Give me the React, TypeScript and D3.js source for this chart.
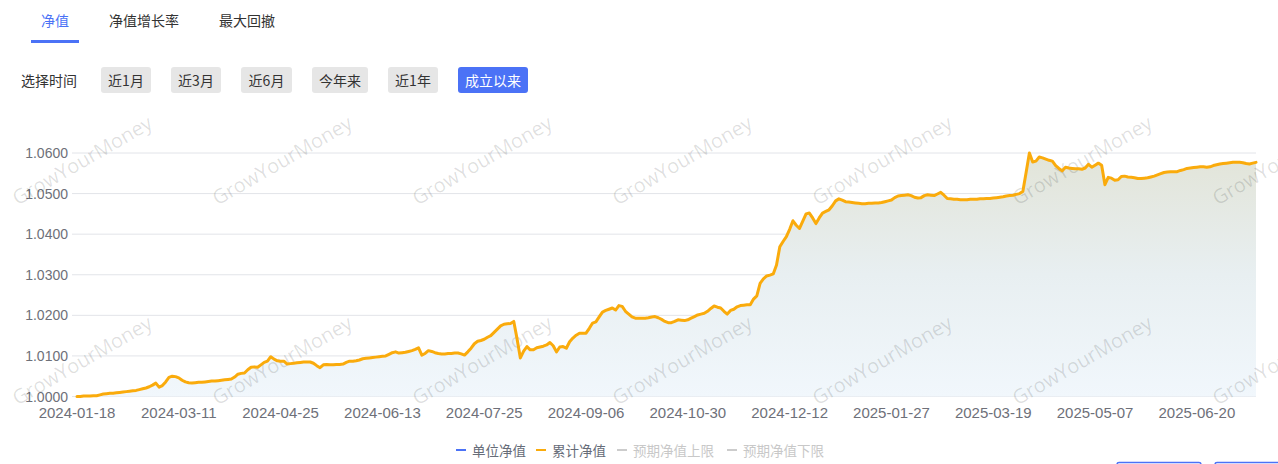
import React from 'react';
import * as d3 from 'd3';

const W = 1278;
const H = 464;

const tabs = ['净值', '净值增长率', '最大回撤'];
const periodButtons = ['近1月', '近3月', '近6月', '今年来', '近1年', '成立以来'];
const legendItems = ['单位净值', '累计净值', '预期净值上限', '预期净值下限'];
const xTickLabels = [
  '2024-01-18', '2024-03-11', '2024-04-25', '2024-06-13', '2024-07-25', '2024-09-06',
  '2024-10-30', '2024-12-12', '2025-01-27', '2025-03-19', '2025-05-07', '2025-06-20',
];
const xTickStep = 31;
const yTickValues = [1.0, 1.01, 1.02, 1.03, 1.04, 1.05, 1.06];

// 累计净值, one value per trading day
const cumulativeNav = [
  1.0000, 1.0000, 1.0001, 1.0001, 1.0001, 1.0002, 1.0002, 1.0004, 1.0006, 1.0007,
  1.0008, 1.0008, 1.0009, 1.0010, 1.0011, 1.0012, 1.0013, 1.0014, 1.0015, 1.0017,
  1.0019, 1.0021, 1.0024, 1.0028, 1.0033, 1.0023, 1.0027, 1.0036, 1.0047, 1.0050,
  1.0049, 1.0046, 1.0040, 1.0036, 1.0034, 1.0033, 1.0034, 1.0035, 1.0035, 1.0036,
  1.0037, 1.0038, 1.0038, 1.0039, 1.0040, 1.0041, 1.0042, 1.0043, 1.0048, 1.0055,
  1.0057, 1.0058, 1.0066, 1.0072, 1.0073, 1.0072, 1.0078, 1.0084, 1.0087, 1.0098,
  1.0092, 1.0088, 1.0087, 1.0087, 1.0080, 1.0081, 1.0082, 1.0083, 1.0084, 1.0085,
  1.0085, 1.0085, 1.0082, 1.0076, 1.0071, 1.0078, 1.0079, 1.0078, 1.0078, 1.0079,
  1.0079, 1.0080, 1.0084, 1.0087, 1.0087, 1.0088, 1.0090, 1.0093, 1.0094, 1.0095,
  1.0096, 1.0097, 1.0098, 1.0099, 1.0100, 1.0104, 1.0108, 1.0110, 1.0107, 1.0108,
  1.0109, 1.0111, 1.0113, 1.0116, 1.0120, 1.0102, 1.0106, 1.0113, 1.0111, 1.0108,
  1.0106, 1.0105, 1.0105, 1.0106, 1.0106, 1.0107, 1.0107, 1.0105, 1.0102, 1.0110,
  1.0119, 1.0130, 1.0136, 1.0138, 1.0141, 1.0146, 1.0150, 1.0158, 1.0166, 1.0174,
  1.0178, 1.0179, 1.0180, 1.0185, 1.0142, 1.0095, 1.0112, 1.0123, 1.0115, 1.0115,
  1.0120, 1.0122, 1.0124, 1.0127, 1.0133, 1.0125, 1.0110, 1.0122, 1.0123, 1.0119,
  1.0135, 1.0144, 1.0151, 1.0156, 1.0156, 1.0156, 1.0168, 1.0181, 1.0184, 1.0196,
  1.0208, 1.0212, 1.0215, 1.0218, 1.0213, 1.0224, 1.0222, 1.0210, 1.0203, 1.0196,
  1.0193, 1.0193, 1.0193, 1.0193, 1.0194, 1.0196, 1.0197, 1.0194, 1.0190, 1.0185,
  1.0182, 1.0182, 1.0185, 1.0189, 1.0188, 1.0187, 1.0189, 1.0193, 1.0197, 1.0201,
  1.0203, 1.0205, 1.0210, 1.0217, 1.0223, 1.0220, 1.0218, 1.0210, 1.0203, 1.0212,
  1.0215, 1.0221, 1.0224, 1.0225, 1.0226, 1.0226, 1.0240, 1.0248, 1.0279, 1.0290,
  1.0297, 1.0299, 1.0302, 1.0324, 1.0369, 1.0382, 1.0394, 1.0412, 1.0433, 1.0422,
  1.0414, 1.0432, 1.0450, 1.0452, 1.0440, 1.0426, 1.0440, 1.0452, 1.0456, 1.0460,
  1.0470, 1.0482, 1.0487, 1.0484, 1.0480, 1.0479, 1.0478, 1.0477, 1.0476, 1.0475,
  1.0475, 1.0476, 1.0476, 1.0477, 1.0477, 1.0478, 1.0480, 1.0482, 1.0484, 1.0490,
  1.0494, 1.0495, 1.0496, 1.0497, 1.0495, 1.0491, 1.0489, 1.0490, 1.0495, 1.0497,
  1.0496, 1.0495, 1.0499, 1.0503, 1.0496, 1.0488, 1.0487, 1.0486, 1.0486, 1.0485,
  1.0485, 1.0485, 1.0486, 1.0486, 1.0486, 1.0487, 1.0487, 1.0488, 1.0488, 1.0489,
  1.0490, 1.0491, 1.0492, 1.0494, 1.0495, 1.0496, 1.0498, 1.0500, 1.0505, 1.0552,
  1.0600, 1.0578, 1.0580, 1.0590, 1.0588, 1.0585, 1.0582, 1.0580, 1.0569, 1.0562,
  1.0556, 1.0565, 1.0563, 1.0562, 1.0561, 1.0561, 1.0560, 1.0563, 1.0572, 1.0565,
  1.0570, 1.0575, 1.0570, 1.0522, 1.0540, 1.0538, 1.0533, 1.0534, 1.0542, 1.0543,
  1.0541, 1.0540, 1.0539, 1.0537, 1.0537, 1.0538, 1.0539, 1.0541, 1.0543, 1.0546,
  1.0549, 1.0552, 1.0553, 1.0554, 1.0554, 1.0554, 1.0557, 1.0559, 1.0562, 1.0563,
  1.0564, 1.0565, 1.0566, 1.0566, 1.0565, 1.0566, 1.0569, 1.0571, 1.0573, 1.0574,
  1.0575, 1.0576, 1.0577, 1.0577, 1.0577, 1.0576, 1.0574, 1.0573, 1.0575, 1.0577,
];

const BLUE = '#4b72f6';
const ORANGE = '#faab0c';
const AXIS_TEXT = '#6e7079';
const GRID = '#e2e4e9';
const CJK = '"Noto Sans CJK SC", "Noto Sans", sans-serif';
const LATIN = '"Liberation Sans", Arial, sans-serif';

export default function App() {
  const gridLeft = 72;
  const plotLeft = 77;
  const plotRight = 1256;
  const plotTop = 153;
  const plotBottom = 396.5;

  const x = d3.scaleLinear().domain([0, cumulativeNav.length - 1]).range([plotLeft, plotRight]);
  const y = d3.scaleLinear().domain([1.0, 1.06]).range([plotBottom, plotTop]);

  const line = d3.line<number>().x((_, i) => x(i)).y((d) => y(d)).curve(d3.curveLinear);
  const area = d3
    .area<number>()
    .x((_, i) => x(i))
    .y0(plotBottom)
    .y1((d) => y(d));

  const tabX = [41, 109, 219];
  const btnX = [101, 171, 241, 312, 388, 458];
  const btnW = [50, 50, 51, 56, 50, 70];
  const legendX = [456, 536, 617, 727];
  const legendColors = [BLUE, ORANGE, '#cccccc', '#cccccc'];
  const legendText = ['#666c78', '#666c78', '#c8c8c8', '#c8c8c8'];

  const wmCols = [82, 282, 482, 682, 882, 1082, 1282];
  const wmRows = [160, 360];

  return (
    <svg
      width={W}
      height={H}
      style={{ position: 'absolute', left: 0, top: 0, background: '#fff' }}
      xmlns="http://www.w3.org/2000/svg"
    >
      <defs>
        <linearGradient id="navFill" gradientUnits="userSpaceOnUse" x1="0" y1={plotTop} x2="0" y2={plotBottom}>
          <stop offset="0" stopColor="#e2e4d8" />
          <stop offset="0.5" stopColor="#e8eff1" />
          <stop offset="1" stopColor="#f1f7fc" />
        </linearGradient>
      </defs>

      {/* tabs */}
      {tabs.map((t, i) => (
        <text
          key={t}
          x={tabX[i]}
          y={19.5}
          dominantBaseline="central"
          fontFamily={CJK}
          fontSize={14}
          fill={i === 0 ? BLUE : '#333'}
        >
          {t}
        </text>
      ))}
      <rect x={31} y={40} width={48} height={3} fill={BLUE} />

      {/* period selector */}
      <text x={21} y={80} dominantBaseline="central" fontFamily={CJK} fontSize={14} fill="#333">
        选择时间
      </text>
      {periodButtons.map((b, i) => (
        <g key={b}>
          <rect x={btnX[i]} y={67} width={btnW[i]} height={26} rx={3} fill={i === 5 ? BLUE : '#e6e6e6'} />
          <text
            x={btnX[i] + btnW[i] / 2}
            y={80}
            textAnchor="middle"
            dominantBaseline="central"
            fontFamily={CJK}
            fontSize={14}
            fill={i === 5 ? '#fff' : '#333'}
          >
            {b}
          </text>
        </g>
      ))}

      {/* grid */}
      {yTickValues.map((v) => (
        <g key={v}>
          <line x1={gridLeft} x2={plotRight} y1={y(v)} y2={y(v)} stroke={GRID} strokeWidth={1} />
          <text
            x={68}
            y={y(v)}
            textAnchor="end"
            dominantBaseline="central"
            fontFamily={LATIN}
            fontSize={14}
            fill={AXIS_TEXT}
          >
            {v.toFixed(4)}
          </text>
        </g>
      ))}

      {/* area */}
      <path d={area(cumulativeNav) || ''} fill="url(#navFill)" />

      {/* watermark */}
      {wmRows.map((ry) =>
        wmCols.map((cx) => (
          <text
            key={`${cx}-${ry}`}
            x={cx}
            y={ry}
            transform={`rotate(-30 ${cx} ${ry})`}
            textAnchor="middle"
            dominantBaseline="central"
            fontFamily='"Open Sans", "Noto Sans", sans-serif'
            fontSize={20}
            fill="rgba(0,0,0,0.13)"
          >
            GrowYourMoney
          </text>
        ))
      )}

      {/* line */}
      <path
        d={line(cumulativeNav) || ''}
        fill="none"
        stroke={ORANGE}
        strokeWidth={3}
        strokeLinejoin="round"
        strokeLinecap="round"
      />

      {/* x axis labels */}
      {xTickLabels.map((lab, i) => (
        <text
          key={lab}
          x={x(i * xTickStep)}
          y={412}
          textAnchor="middle"
          dominantBaseline="central"
          fontFamily={LATIN}
          fontSize={15}
          fill={AXIS_TEXT}
        >
          {lab}
        </text>
      ))}

      {/* legend */}
      {legendItems.map((l, i) => (
        <g key={l}>
          <line x1={legendX[i]} x2={legendX[i] + 10} y1={450} y2={450} stroke={legendColors[i]} strokeWidth={2} />
          <text
            x={legendX[i] + 16}
            y={450}
            dominantBaseline="central"
            fontFamily={CJK}
            fontSize={13.5}
            fill={legendText[i]}
          >
            {l}
          </text>
        </g>
      ))}

      {/* partially visible buttons at the bottom edge */}
      <rect x={1117} y={462.5} width={84} height={20} rx={2} fill="#fff" stroke={BLUE} strokeWidth={1.5} />
      <rect x={1215} y={462.5} width={80} height={20} rx={2} fill="#fff" stroke={BLUE} strokeWidth={1.5} />
    </svg>
  );
}
